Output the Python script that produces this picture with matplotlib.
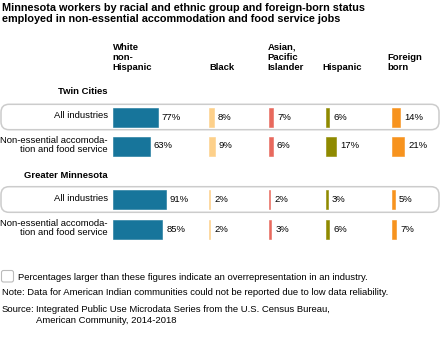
import matplotlib
matplotlib.use("Agg")
import matplotlib.pyplot as plt
from matplotlib.patches import FancyBboxPatch

plt.rcParams['font.family'] = ['Liberation Sans', 'DejaVu Sans']

# Data
groups = ["White\nnon-\nHispanic", "Black", "Asian,\nPacific\nIslander", "Hispanic", "Foreign\nborn"]
colors = ["#17759b", "#fdd08a", "#e8695d", "#8f8a00", "#f7931e"]
regions = ["Twin Cities", "Greater Minnesota"]
row_labels = ["All industries", "Non-essential accomoda-\ntion and food service"]
tc_all = [77, 8, 7, 6, 14]
tc_food = [63, 9, 6, 17, 21]
gm_all = [91, 2, 2, 3, 5]
gm_food = [85, 2, 3, 6, 7]

# Layout (pixels)
W, H = 440, 341
col_x = [113, 209.3, 269.3, 326, 392]
head_x = [112.7, 209.3, 267.3, 322.7, 387.7]
row_y = [117, 146, 199.3, 229]
px_per_pct = 0.58
bar_h = 19
fs = 6.8

fig = plt.figure(figsize=(W / 100, H / 100), dpi=100)

# overlay axes in pixel units for text and boxes
ov = fig.add_axes([0, 0, 1, 1])
ov.set_xlim(0, W)
ov.set_ylim(H, 0)
ov.axis("off")

ov.text(2, 13.5, "Minnesota workers by racial and ethnic group and foreign-born status\n"
        "employed in non-essential accommodation and food service jobs",
        fontsize=7.8, fontweight="bold", va="center", ha="left", linespacing=1.2)

for g, hx in zip(groups, head_x):
    ov.text(hx, 72, g, fontsize=fs, fontweight="bold", ha="left", va="bottom", linespacing=1.15)

# rounded boxes around "All industries" rows
for top, bot in [(104.3, 129.7), (186.7, 212.3)]:
    ov.add_patch(FancyBboxPatch((1, top), 438, bot - top,
                                boxstyle="round,pad=0,rounding_size=8",
                                fc="none", ec="#cccccc", lw=1.1))

ov.text(108, 92, regions[0], fontsize=fs, fontweight="bold", ha="right", va="center")
ov.text(108, 175, regions[1], fontsize=fs, fontweight="bold", ha="right", va="center")
for i, y in enumerate(row_y):
    ov.text(108, y - 1, row_labels[i % 2], fontsize=fs, ha="right", va="center", linespacing=1.1)

# bars, one axes per column
rows = [tc_all, tc_food, gm_all, gm_food]
span = 90
for j in range(len(groups)):
    ax = fig.add_axes([col_x[j] / W, 0, span / W, 1])
    ax.set_xlim(0, span / px_per_pct)
    ax.set_ylim(H, 0)
    ax.axis("off")
    ax.patch.set_alpha(0)
    vals = [r[j] for r in rows]
    ax.barh(row_y, vals, height=bar_h, color=colors[j], edgecolor=colors[j], lw=0.4)
    for v, y in zip(vals, row_y):
        ax.annotate(f"{v}%", (v, y), xytext=(3, 0), textcoords="offset points",
                    fontsize=fs, ha="left", va="center")

# legend / notes
ov.add_patch(FancyBboxPatch((1.5, 270.5), 12, 11.5, boxstyle="round,pad=0,rounding_size=2",
                            fc="none", ec="#bbbbbb", lw=0.8))
ov.text(18, 277.3, "Percentages larger than these figures indicate an overrepresentation in an industry.",
        fontsize=fs, ha="left", va="center")
ov.text(2, 292.7, "Note: Data for American Indian communities could not be reported due to low data reliability.",
        fontsize=fs, ha="left", va="center")
ov.text(2, 309.3, "Source:", fontsize=fs, ha="left", va="center")
ov.text(36, 315, "Integrated Public Use Microdata Series from the U.S. Census Bureau,\n"
        "American Community, 2014-2018", fontsize=fs, ha="left", va="center",
        linespacing=1.15)

fig.savefig("out.png", dpi=100)
